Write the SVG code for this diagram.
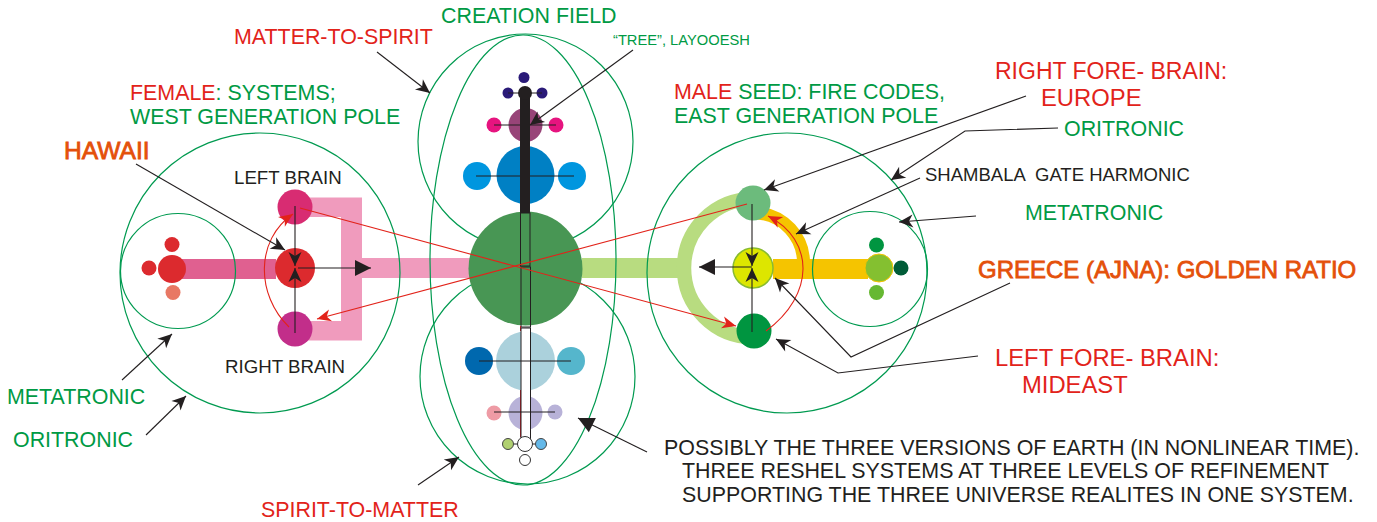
<svg xmlns="http://www.w3.org/2000/svg" width="1377" height="522" viewBox="0 0 1377 522">
<style>
text{font-family:"Liberation Sans",Arial,sans-serif;font-size:21.4px;white-space:pre}
.r{fill:#e2231a}.g{fill:#009a44}.k{fill:#231f20}.o{fill:#e4500a;stroke:#e4500a;stroke-width:.8}
.ring{fill:none;stroke:#009a50;stroke-width:1.200}
.a{fill:none;stroke:#231f20;stroke-width:1.100;marker-end:url(#ka)}
.t{fill:none;stroke:#231f20;stroke-width:1.100;marker-end:url(#kt)}
.c{fill:none;stroke:#e2231a;stroke-width:1.100;marker-end:url(#ra)}
.l{fill:none;stroke:#231f20;stroke-width:1}
</style>
<defs>
<marker id="ka" markerUnits="userSpaceOnUse" markerWidth="20" markerHeight="20" refX="14" refY="6.500" orient="auto" overflow="visible"><path d="M0 0L14 6.500L0 13L4 6.500Z" fill="#231f20"/></marker>
<marker id="ra" markerUnits="userSpaceOnUse" markerWidth="20" markerHeight="20" refX="14" refY="6" orient="auto" overflow="visible"><path d="M0 0L14 6L0 12L4 6Z" fill="#e2231a"/></marker>
<marker id="kt" markerUnits="userSpaceOnUse" markerWidth="20" markerHeight="20" refX="16" refY="8" orient="auto" overflow="visible"><path d="M0 0L16 8L0 16Z" fill="#231f20"/></marker>
</defs>
<g id="bars">
<rect x="172" y="259" width="104" height="20" fill="#e06090"/>
<path d="M295 197.500H362V258H470V278H362V340.500H295V321H341V217H295Z" fill="#f09bbd"/>
<rect x="582" y="258" width="98" height="20" fill="#b8dc80"/>
<path d="M753 199A69 69 0 0 0 753 337" fill="none" stroke="#b8dc80" stroke-width="14.500"/>
<rect x="773" y="259" width="95" height="20" fill="#f5c400"/>
<path d="M758 213A50 50 0 0 1 803.500 262V270" fill="none" stroke="#f5c400" stroke-width="13"/>
</g>
<g id="rings">
<ellipse class="ring" cx="523" cy="260" rx="93" ry="225"/>
<circle class="ring" cx="525.500" cy="141.500" r="107.500"/>
<circle class="ring" cx="527.500" cy="376.500" r="107.500"/>
<circle class="ring" cx="260" cy="273" r="140"/>
<circle class="ring" cx="178" cy="271" r="57.500"/>
<circle class="ring" cx="787" cy="273" r="140"/>
<circle class="ring" cx="870" cy="269" r="57.500"/>
</g>
<g id="node-left">
<circle cx="172" cy="269" r="14" fill="#dc2a2e"/><circle cx="149" cy="268" r="7.500" fill="#dc2a2e"/><circle cx="172" cy="244.500" r="7.500" fill="#dc2a2e"/><circle cx="173" cy="292.500" r="7.500" fill="#e87864"/>
<circle cx="295" cy="207" r="17.500" fill="#d82c72"/><circle cx="295" cy="329" r="17.500" fill="#c22e8a"/><circle cx="295" cy="268" r="20" fill="#dc2a2e"/>
</g>
<g id="node-center">
<circle cx="525.500" cy="268.500" r="57" fill="#489654"/>
</g>
<g id="node-top">
<circle cx="524" cy="77.500" r="5.500" fill="#2a1a78"/><circle cx="508" cy="93" r="5.500" fill="#2a1a78"/><circle cx="542" cy="93" r="5.500" fill="#2a1a78"/>
<circle cx="525.500" cy="125" r="17" fill="#984478"/><circle cx="494" cy="125" r="7.500" fill="#e6147f"/><circle cx="556" cy="125" r="7.500" fill="#e6147f"/>
<circle cx="525.500" cy="175" r="29" fill="#0080c4"/><circle cx="477" cy="176" r="14" fill="#0096df"/><circle cx="572" cy="176" r="14" fill="#0096df"/>
<path class="l" d="M508 93H542M494 125H556M476 176H574"/>
<rect x="520" y="93" width="10" height="120" fill="#231f20"/><circle cx="525" cy="93" r="7" fill="#231f20"/>
<rect x="520.500" y="213" width="9.500" height="53" fill="none" stroke="#231f20" stroke-width="1"/>
</g>
<g id="node-bottom">
<circle cx="525.500" cy="361" r="29.500" fill="#abd1dc"/><circle cx="479" cy="361" r="14" fill="#0068ae"/><circle cx="571" cy="361" r="14" fill="#55b6cc"/>
<circle cx="525.500" cy="413" r="17" fill="#b8b2d8"/><circle cx="494" cy="413" r="7.500" fill="#ee9ba5"/><circle cx="555" cy="412" r="7.500" fill="#b8b2d8"/>
<rect x="521" y="267" width="9.500" height="60" fill="none" stroke="#231f20" stroke-width="1"/>
<path d="M520.500 326V331M520.500 390V437" stroke="#c8202a" stroke-width="1"/>
<rect x="521" y="328" width="9.500" height="112" fill="#fff" stroke="#231f20" stroke-width="1"/>
<path class="l" d="M479 361H571M494 412H555M508 444H541"/>
<circle cx="508" cy="444" r="5.500" fill="#b0d070" stroke="#444"/><circle cx="541" cy="444" r="5.500" fill="#64b8e8" stroke="#444"/><circle cx="525" cy="444" r="7.500" fill="#fff" stroke="#333"/><circle cx="525" cy="460" r="5.500" fill="#fff" stroke="#333"/>
</g>
<g id="node-right">
<circle cx="753" cy="203" r="17.500" fill="#6cbb7c"/><circle cx="754" cy="331" r="17.500" fill="#009540"/><circle cx="753" cy="268" r="20" fill="#dde600" stroke="#88bb30" stroke-width="1.500"/>
<circle cx="879" cy="268" r="14" fill="#84c030" stroke="#f5c400"/><circle cx="901" cy="268" r="7.500" fill="#005c38"/><circle cx="876.500" cy="245" r="7.500" fill="#009540"/><circle cx="876.500" cy="292.500" r="7.500" fill="#66b832"/>
</g>
<g id="connectors">
<path class="c" d="M300 208L736 326"/>
<path class="c" d="M747 204L317 319"/>
<path class="c" d="M289 327C256 295 255 240 293 214"/>
<path class="c" d="M766 331C815 295 815 240 768 216"/>
<path class="a" d="M295 206V266"/>
<path class="a" d="M295 333V268"/>
<path class="t" d="M298 268H371"/>
<path class="a" d="M752 204V266"/>
<path class="a" d="M752 332V268"/>
<path class="t" d="M752 267H699"/>
<path class="a" d="M136 164L285 250"/>
<path class="a" d="M122 380L172 334"/>
<path class="a" d="M146 435L186 396"/>
<path class="a" d="M377 52L430 93"/>
<path class="a" d="M633 50L530 125"/>
<path class="a" d="M418 485L459 457"/>
<path class="t" d="M647 452L578 418"/>
<path class="a" d="M1026 96L764 190"/>
<path class="a" d="M1058 128L965 131L891 180"/>
<path class="a" d="M920 178L796 234"/>
<path class="a" d="M976 216L899 222"/>
<path class="a" d="M1010 283L851 357L775 278"/>
<path class="a" d="M978 356L838 373L776 339"/>
</g>
<g id="labels">
<text class="g" x="441" y="23">CREATION FIELD</text>
<text class="r" x="234" y="44">MATTER-TO-SPIRIT</text>
<text class="g" x="613" y="45" style="font-size:14.700px">“TREE”, LAYOOESH</text>
<text x="130" y="100"><tspan class="r">FEMALE</tspan><tspan class="g">: SYSTEMS;</tspan></text>
<text class="g" x="130" y="124">WEST GENERATION POLE</text>
<text class="o" x="64" y="159" style="font-size:24.600px">HAWAII</text>
<text class="k" x="234" y="184" style="font-size:18.700px">LEFT BRAIN</text>
<text class="k" x="225" y="373" style="font-size:18.700px">RIGHT BRAIN</text>
<text class="g" x="7" y="404">METATRONIC</text>
<text class="g" x="13" y="447">ORITRONIC</text>
<text class="r" x="261" y="517">SPIRIT-TO-MATTER</text>
<text x="674" y="99"><tspan class="r">MALE</tspan><tspan class="g"> SEED: FIRE CODES,</tspan></text>
<text class="g" x="674" y="123">EAST GENERATION POLE</text>
<text class="r" x="995" y="79" style="font-size:23px">RIGHT FORE- BRAIN:</text>
<text class="r" x="1041" y="106" style="font-size:23.800px">EUROPE</text>
<text class="g" x="1064" y="136">ORITRONIC</text>
<text class="k" x="925" y="181" style="font-size:18.500px">SHAMBALA  GATE HARMONIC</text>
<text class="g" x="1025" y="220">METATRONIC</text>
<text class="o" x="978" y="278" style="font-size:24px">GREECE (AJNA): GOLDEN RATIO</text>
<text class="r" x="995" y="366" style="font-size:23.800px">LEFT FORE- BRAIN:</text>
<text class="r" x="1022" y="393" style="font-size:23.800px">MIDEAST</text>
<text class="k" x="664" y="455">POSSIBLY THE THREE VERSIONS OF EARTH (IN NONLINEAR TIME).</text>
<text class="k" x="682" y="478">THREE RESHEL SYSTEMS AT THREE LEVELS OF REFINEMENT</text>
<text class="k" x="682" y="502">SUPPORTING THE THREE UNIVERSE REALITES IN ONE SYSTEM.</text>
</g>
</svg>
